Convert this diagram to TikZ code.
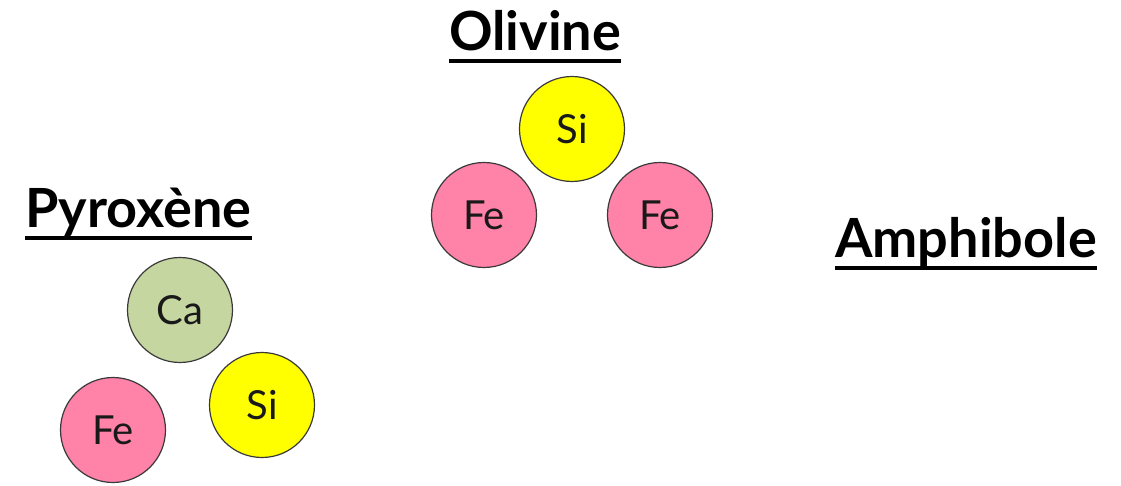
\documentclass[tikz,border=0pt]{standalone}
\usepackage{fontspec}
\setmainfont{Lato}
\definecolor{siyellow}{HTML}{FFFF00}
\definecolor{fepink}{HTML}{FF82A9}
\definecolor{cagreen}{HTML}{C5D6A0}
\definecolor{rim}{HTML}{3A3A3A}
\tikzset{
  atom/.style={circle, draw=rim, line width=1.2pt, minimum size=105pt, inner sep=0pt,
    font=\fontsize{40}{42}\selectfont, text=black!90},
  title/.style={anchor=base west, inner sep=0pt, font=\fontsize{54}{56}\selectfont\bfseries},
  uline/.style={line width=4pt}
}
\begin{document}
\begin{tikzpicture}[x=1pt,y=-1pt]
\useasboundingbox (0,0) rectangle (1121,486);
% titles
\node[title] (tol) at (449,51) {Olivine};
\node[title] (tpy) at (25,228) {Pyroxène};
\node[title] (tam) at (835,258) {Amphibole};
\foreach \t in {tol,tpy,tam}{
  \draw[uline] ([yshift=-10pt]\t.base west) -- ([yshift=-10pt]\t.base east);
}
% olivine
\node[atom, fill=siyellow] (osi) at (572,129) {Si};
\node[atom, fill=fepink] (ofe1) at (484,215) {Fe};
\node[atom, fill=fepink] (ofe2) at (660,215) {Fe};
% pyroxene
\node[atom, fill=cagreen] (pca) at (180,310) {Ca};
\node[atom, fill=siyellow] (psi) at (262,405) {Si};
\node[atom, fill=fepink] (pfe) at (113,430) {Fe};
\end{tikzpicture}
\end{document}
